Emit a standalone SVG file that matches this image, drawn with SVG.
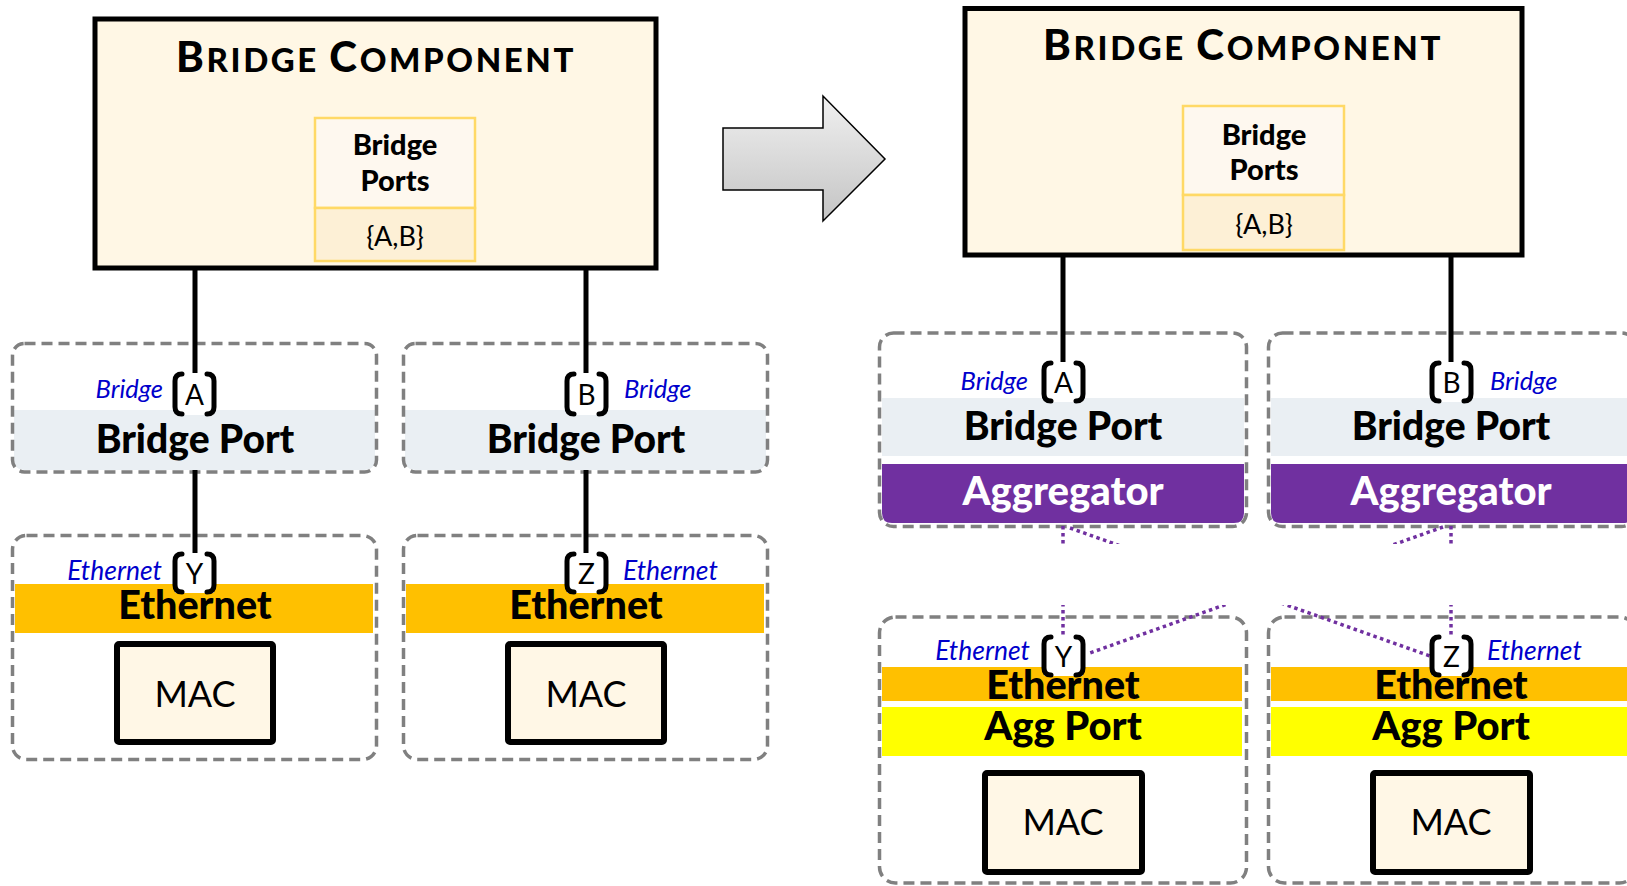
<svg xmlns="http://www.w3.org/2000/svg" width="1627" height="886" viewBox="0 0 1627 886">
<defs>
<style>
text{font-family:Lato,"Open Sans","Liberation Sans",sans-serif}
.bc{fill:#FFF7E5;stroke:#000;stroke-width:5}
.ip1{fill:#FEF8EF;stroke:#FFD966;stroke-width:2.5}
.ip2{fill:#FDF0D6;stroke:#FFD966;stroke-width:2.5}
.title{font-weight:900;text-anchor:middle;fill:#000}
.big{font-size:42px}
.sm{font-size:33px}
.ipt{font-size:29px;font-weight:900;text-anchor:middle}
.set{font-size:27px;text-anchor:middle}
.dbox{fill:none;stroke:#808080;stroke-width:3.5;stroke-dasharray:11 6}
.lband{fill:#EAEFF3}
.eband{fill:#FFC000}
.yband{fill:#FFFF00}
.pband{fill:#7030A0}
.bold{font-weight:900;text-anchor:middle;fill:#000}
.bp{font-size:39px}
.eth{font-size:39.5px}
.agg{font-size:40px;fill:#fff}
.mac{fill:#FFF7E6;stroke:#000;stroke-width:6}
.mact{font-size:36px;text-anchor:middle}
.it{font-style:italic;fill:#0000CC;font-size:25.5px}
.ite{font-size:26.5px}
.end{text-anchor:end}
.bw{fill:#fff}
.br{fill:none;stroke:#000;stroke-width:5;stroke-linecap:round;stroke-linejoin:round}
.pl{font-size:28px;text-anchor:middle}
.wire{stroke:#000;stroke-width:5;fill:none}
.dot{stroke:#7030A0;stroke-width:3.5;stroke-dasharray:3.5 3.5;fill:none}
</style>
<linearGradient id="ag" x1="0" y1="0" x2="0" y2="1">
<stop offset="0" stop-color="#F0F0F0"/>
<stop offset="1" stop-color="#C4C4C4"/>
</linearGradient>
<clipPath id="gap">
<rect x="0" y="0" width="1627" height="544"/>
<rect x="0" y="605" width="1627" height="281"/>
</clipPath>
</defs>

<!-- LEFT DIAGRAM -->
<g id="bc-left">
<rect class="bc" x="95" y="19" width="561" height="249"/>
<text class="title" x="376" y="72" letter-spacing="2.6"><tspan class="big">B</tspan><tspan class="sm">RIDGE </tspan><tspan class="big">C</tspan><tspan class="sm">OMPONENT</tspan></text>
<rect class="ip1" x="315" y="118" width="160" height="90"/>
<rect class="ip2" x="315" y="208" width="160" height="53"/>
<text class="ipt" x="395" y="155">Bridge</text>
<text class="ipt" x="395" y="191">Ports</text>
<text class="set" x="395" y="246">{A,B}</text>
</g>

<g id="bp-left-a">
<path class="lband" d="M14,410 H375 V459 Q375,470 364,470 H25 Q14,470 14,459 Z"/>
<rect class="dbox" x="12.5" y="343.5" width="364" height="128.5" rx="12"/>
<text class="bold bp" x="195" y="453">Bridge Port</text>
<text class="it end" x="163" y="398">Bridge</text>
</g>
<g id="bp-left-b">
<path class="lband" d="M405,410 H766 V459 Q766,470 755,470 H416 Q405,470 405,459 Z"/>
<rect class="dbox" x="403.5" y="343.5" width="364" height="128.5" rx="12"/>
<text class="bold bp" x="586" y="453">Bridge Port</text>
<text class="it" x="624" y="398">Bridge</text>
</g>

<g id="eth-left-y">
<rect class="eband" x="15" y="584" width="358" height="49"/>
<rect class="dbox" x="12.5" y="535.5" width="364" height="224" rx="14"/>
<text class="bold eth" x="195" y="619">Ethernet</text>
<text class="it ite end" x="162" y="580">Ethernet</text>
<rect class="mac" x="117" y="644" width="156" height="98" rx="2"/>
<text class="mact" x="195" y="707">MAC</text>
</g>
<g id="eth-left-z">
<rect class="eband" x="406" y="584" width="358" height="49"/>
<rect class="dbox" x="403.5" y="535.5" width="364" height="224" rx="14"/>
<text class="bold eth" x="586" y="619">Ethernet</text>
<text class="it ite" x="623" y="580">Ethernet</text>
<rect class="mac" x="508" y="644" width="156" height="98" rx="2"/>
<text class="mact" x="586" y="707">MAC</text>
</g>

<!-- ARROW -->
<g id="transform-arrow">
<polygon points="723,128 823,128 823,96 885,159 823,221 823,190 723,190" fill="url(#ag)" stroke="#000" stroke-width="1.5" stroke-linejoin="miter"/>
</g>

<!-- RIGHT DIAGRAM -->
<g id="bc-right">
<rect class="bc" x="965" y="8.5" width="557" height="246.5"/>
<text class="title" x="1243" y="60" letter-spacing="2.6"><tspan class="big">B</tspan><tspan class="sm">RIDGE </tspan><tspan class="big">C</tspan><tspan class="sm">OMPONENT</tspan></text>
<rect class="ip1" x="1183" y="106" width="161" height="89"/>
<rect class="ip2" x="1183" y="195" width="161" height="55"/>
<text class="ipt" x="1264" y="145">Bridge</text>
<text class="ipt" x="1264" y="180">Ports</text>
<text class="set" x="1264" y="234">{A,B}</text>
</g>

<g id="bp-right-a">
<rect class="lband" x="882" y="398" width="362" height="58"/>
<path class="pband" d="M882,464 H1244 V513 Q1244,523 1234,523 H892 Q882,523 882,513 Z"/>
<rect class="dbox" x="879.5" y="333" width="367" height="193.5" rx="14"/>
<text class="bold bp" x="1063" y="440">Bridge Port</text>
<text class="bold agg" x="1063" y="505">Aggregator</text>
<text class="it end" x="1028" y="390">Bridge</text>
</g>
<g id="bp-right-b">
<rect class="lband" x="1271" y="398" width="362" height="58"/>
<path class="pband" d="M1271,464 H1633 V513 Q1633,523 1623,523 H1281 Q1271,523 1271,513 Z"/>
<rect class="dbox" x="1268.5" y="333" width="367" height="193.5" rx="14"/>
<text class="bold bp" x="1451" y="440">Bridge Port</text>
<text class="bold agg" x="1451" y="505">Aggregator</text>
<text class="it" x="1490" y="390">Bridge</text>
</g>

<g id="eth-right-y">
<rect class="eband" x="882" y="667" width="360" height="34"/>
<rect class="yband" x="882" y="707" width="360" height="49"/>
<rect class="dbox" x="879.5" y="617" width="367" height="266" rx="16"/>
<text class="bold eth" x="1063" y="699">Ethernet</text>
<text class="bold agg" x="1063" y="740" style="fill:#000">Agg Port</text>
<text class="it ite end" x="1030" y="660">Ethernet</text>
<rect class="mac" x="985" y="773" width="157" height="99" rx="2"/>
<text class="mact" x="1063" y="835">MAC</text>
</g>
<g id="eth-right-z">
<rect class="eband" x="1271" y="667" width="360" height="34"/>
<rect class="yband" x="1271" y="707" width="360" height="49"/>
<rect class="dbox" x="1268.5" y="617" width="367" height="266" rx="16"/>
<text class="bold eth" x="1451" y="699">Ethernet</text>
<text class="bold agg" x="1451" y="740" style="fill:#000">Agg Port</text>
<text class="it ite" x="1487" y="660">Ethernet</text>
<rect class="mac" x="1373" y="773" width="157" height="99" rx="2"/>
<text class="mact" x="1451" y="835">MAC</text>
</g>

<!-- CONNECTORS -->
<g id="connectors">
<line class="wire" x1="195" y1="266" x2="195" y2="374"/>
<line class="wire" x1="195" y1="470" x2="195" y2="554"/>
<line class="wire" x1="586" y1="266" x2="586" y2="374"/>
<line class="wire" x1="586" y1="470" x2="586" y2="554"/>
<line class="wire" x1="1063" y1="253" x2="1063" y2="363"/>
<line class="wire" x1="1451" y1="253" x2="1451" y2="363"/>
<g clip-path="url(#gap)">
<line class="dot" x1="1063" y1="526" x2="1063" y2="636"/>
<line class="dot" x1="1451" y1="526" x2="1451" y2="636"/>
<line class="dot" x1="1070" y1="528" x2="1430" y2="656"/>
<line class="dot" x1="1443" y1="527" x2="1087" y2="654"/>
</g>
</g>

<!-- PORT LABELS -->
<g id="port-a-left">
<rect class="bw" x="175" y="373" width="39" height="42"/>
<path class="br" d="M182,374 Q175,374 175,381 V407 Q175,414 182,414"/>
<path class="br" d="M207,374 Q214,374 214,381 V407 Q214,414 207,414"/>
<text class="pl" x="194.5" y="405">A</text>
</g>
<g id="port-b-left">
<rect class="bw" x="567" y="373" width="39" height="42"/>
<path class="br" d="M574,374 Q567,374 567,381 V407 Q567,414 574,414"/>
<path class="br" d="M599,374 Q606,374 606,381 V407 Q606,414 599,414"/>
<text class="pl" x="586.5" y="405">B</text>
</g>
<g id="port-y-left">
<rect class="bw" x="175" y="553" width="39" height="40"/>
<path class="br" d="M182,554 Q175,554 175,561 V585 Q175,592 182,592"/>
<path class="br" d="M207,554 Q214,554 214,561 V585 Q214,592 207,592"/>
<text class="pl" x="194.5" y="584">Y</text>
</g>
<g id="port-z-left">
<rect class="bw" x="567" y="553" width="39" height="40"/>
<path class="br" d="M574,554 Q567,554 567,561 V585 Q567,592 574,592"/>
<path class="br" d="M599,554 Q606,554 606,561 V585 Q606,592 599,592"/>
<text class="pl" x="586.5" y="584">Z</text>
</g>
<g id="port-a-right">
<rect class="bw" x="1044" y="362" width="39" height="40"/>
<path class="br" d="M1051,363 Q1044,363 1044,370 V394 Q1044,401 1051,401"/>
<path class="br" d="M1076,363 Q1083,363 1083,370 V394 Q1083,401 1076,401"/>
<text class="pl" x="1063.5" y="393">A</text>
</g>
<g id="port-b-right">
<rect class="bw" x="1432" y="362" width="39" height="40"/>
<path class="br" d="M1439,363 Q1432,363 1432,370 V394 Q1432,401 1439,401"/>
<path class="br" d="M1464,363 Q1471,363 1471,370 V394 Q1471,401 1464,401"/>
<text class="pl" x="1451.5" y="393">B</text>
</g>
<g id="port-y-right">
<rect class="bw" x="1044" y="636" width="39" height="40"/>
<path class="br" d="M1051,637 Q1044,637 1044,644 V668 Q1044,675 1051,675"/>
<path class="br" d="M1076,637 Q1083,637 1083,644 V668 Q1083,675 1076,675"/>
<text class="pl" x="1063.5" y="667">Y</text>
</g>
<g id="port-z-right">
<rect class="bw" x="1432" y="636" width="39" height="40"/>
<path class="br" d="M1439,637 Q1432,637 1432,644 V668 Q1432,675 1439,675"/>
<path class="br" d="M1464,637 Q1471,637 1471,644 V668 Q1471,675 1464,675"/>
<text class="pl" x="1451.5" y="667">Z</text>
</g>
</svg>
